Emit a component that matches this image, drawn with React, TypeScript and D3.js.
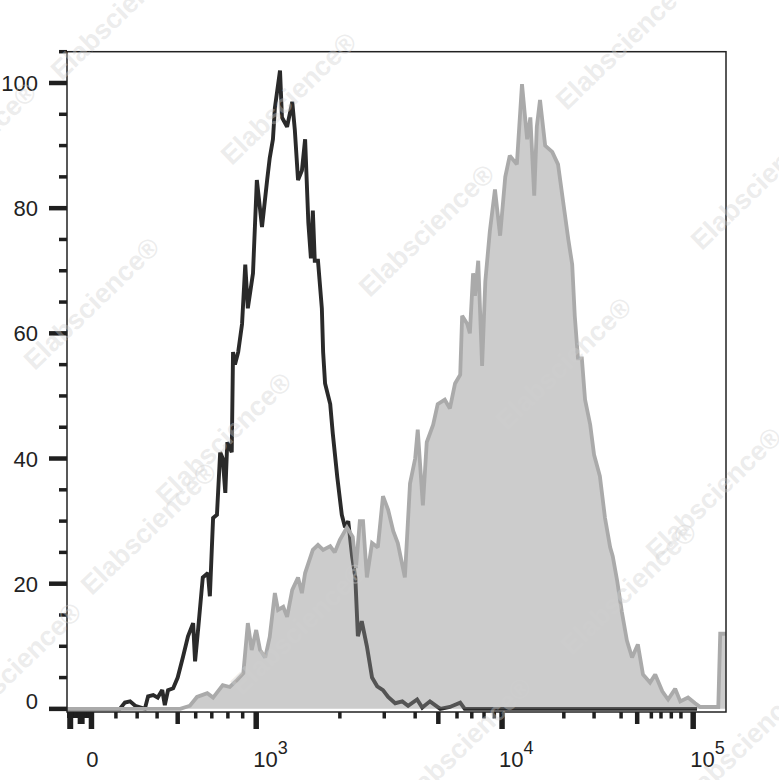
import React from "react";
import * as d3 from "d3";

// ---------- data (histogram channel 0..1024, normalised count % of max) ----------
const channelMax = 1024;

const blackChannels = [0,82,90,98,106,121,126,134,141,148,152,157,165,172,180,188,196,199,204,211,219,222,227,233,238,242,246,249,256,258,261,266,272,277,281,289,295,303,311,315,320,323,331,334,342,350,354,359,365,370,375,379,382,385,390,396,398,401,409,413,420,427,432,437,443,448,452,458,466,474,482,491,499,510,521,530,544,552,564,580,595,611,618,979];
const blackCounts = [0,0,1,1.2,0.5,0,2,2.2,1.8,3,0.6,3,3.3,5,8.2,11.6,13.7,7.6,13,21,21.7,18,30.5,31,41,40,34.5,42.6,41,57,55,57,61.5,71,64,69.6,84.5,77,84.5,88,91,96,102,94.5,93,97,92.5,84.5,86,91,77.7,72,79.6,71.6,71.6,64,57,52,48.7,44,37,31,29,30,24.4,21,11.6,14,10,5,3.6,3,1.9,0.9,1.2,0.5,1.5,0.2,1.2,0,0.3,1,0,0];

const grayChannels = [0,176,191,202,218,227,242,253,264,274,281,287,294,300,308,315,323,328,336,342,350,359,365,370,382,390,398,409,416,424,435,444,449,455,460,466,474,483,491,499,507,514,525,533,541,545,553,559,569,576,587,595,603,611,614,622,626,631,634,639,645,650,657,665,673,681,688,699,707,715,720,726,730,735,743,754,763,771,779,785,789,794,800,805,813,819,828,836,844,848,855,862,870,878,887,895,906,914,925,934,945,953,965,976,984,1012,1015,1024];
const grayCounts = [0,0,0.5,1.9,2.5,1.8,3.8,3.5,4.6,5.7,13.7,9.4,12.6,9.4,8.2,11.5,18.5,15.8,16.3,14.7,19,21,18.5,21.7,25.4,26.2,25.4,26,25,27,29,27.5,22.5,30,30,21,26.5,25.8,34,31.8,28.4,26.5,21,36,40,44.6,32.5,42.6,45.4,48.7,49.4,48,52,53.4,62.8,61.5,60,69.6,66,71.6,54.8,68.3,76.3,83,75.6,85,88.4,87,99.8,91,94.5,82,93,97.3,90,89,87,81,75,71,62.8,56,56,49.4,45.4,40.6,37.2,30.5,25.8,24.4,20.4,15.6,10.9,8.2,10.3,5.5,4.2,5.5,2.8,1.5,3.2,1.2,1.8,0.9,0.3,0.3,12,12];

// ---------- axis ticks ----------
const xMajorChannels = [38, 294, 676, 973];
const xMajorBase = ["0", "10", "10", "10"];
const xMajorExp = ["", "3", "4", "5"];
const xMediumChannels = [172, 577, 886];
const xMinorChannels = [76, 109, 140, 200, 225, 250, 273, 424, 493, 541, 606, 629, 648, 664, 772, 819, 861, 908, 923, 939, 954];
const xNegMinorChannels = [3, 8, 13, 18, 23, 28, 33];
const xNegMediumChannels = [22];
const xNegMajorChannels = [5];

const yMajorValues = [0, 20, 40, 60, 80, 100];
const yMinorValues = [5, 10, 15, 25, 30, 35, 45, 50, 55, 65, 70, 75, 85, 90, 95, 105];

const watermarkText = "Elabscience®";
const watermarkCenters: [number, number][] = [
  [120, 15], [290, 100], [625, 45], [760, 185], [-30, 150], [93, 305], [428, 232],
  [225, 440], [565, 365], [715, 495], [150, 530], [300, 630], [630, 590], [15, 670],
  [465, 745], [745, 745],
];

const FONT = "'Liberation Sans', Arial, Helvetica, sans-serif";

export default function App() {
  const L = 67, R = 726, B = 712, T = 51.7;
  const x = d3.scaleLinear().domain([0, channelMax]).range([L, R]);
  const y = d3.scaleLinear().domain([-0.5, 105]).range([B, T]);

  const black = blackChannels.map((c, i) => [c, blackCounts[i]] as [number, number]);
  const gray = grayChannels.map((c, i) => [c, grayCounts[i]] as [number, number]);

  const line = d3.line<[number, number]>().x(d => x(d[0])).y(d => y(d[1]));
  const area = d3.area<[number, number]>().x(d => x(d[0])).y0(y(0)).y1(d => y(d[1]));

  const tickColor = "#1f1f1f";

  return (
    <svg width={779} height={780} style={{ position: "absolute", left: 0, top: 0, background: "#fff" }}>
      <rect x={0} y={0} width={779} height={780} fill="#fff" />
      {/* black histogram (line) */}
      <path d={line(black) || ""} fill="none" stroke="#2a2a2a" strokeWidth={3.9} strokeLinejoin="miter" strokeMiterlimit={2} />
      {/* gray filled histogram */}
      <path d={area(gray) || ""} fill="rgb(140,140,140)" fillOpacity={0.44} stroke="none" />
      <path d={line(gray) || ""} fill="none" stroke="#aaaaaa" strokeWidth={3.8} strokeLinejoin="miter" strokeMiterlimit={2} />

      {/* frame */}
      <rect x={L} y={T} width={R - L} height={B - T} fill="none" stroke="#222" strokeWidth={1.5} />

      {/* y ticks */}
      {yMajorValues.map(v => (
        <line key={"ym" + v} x1={49} x2={L} y1={y(v)} y2={y(v)} stroke={tickColor} strokeWidth={4.5} />
      ))}
      {yMinorValues.map(v => (
        <line key={"yn" + v} x1={59} x2={L} y1={y(v)} y2={y(v)} stroke={tickColor} strokeWidth={3.5} />
      ))}
      {yMajorValues.map(v => (
        <text key={"yl" + v} x={38} y={y(v) + 8 - (v === 0 ? 8 : 0)} textAnchor="end" fontFamily={FONT} fontSize={22} fill="#222">
          {v}
        </text>
      ))}

      {/* x ticks */}
      <rect x={x(0)} y={B} width={x(38) - x(0) + 2} height={6} fill={tickColor} />
      {xNegMinorChannels.map(c => (
        <line key={"xnn" + c} x1={x(c)} x2={x(c)} y1={B} y2={B + 6} stroke={tickColor} strokeWidth={3.5} />
      ))}
      {xNegMediumChannels.map(c => (
        <line key={"xnm" + c} x1={x(c)} x2={x(c)} y1={B} y2={B + 12} stroke={tickColor} strokeWidth={7} />
      ))}
      {xNegMajorChannels.map(c => (
        <line key={"xnM" + c} x1={x(c)} x2={x(c)} y1={B} y2={B + 17} stroke={tickColor} strokeWidth={6} />
      ))}
      {xMajorChannels.map(c => (
        <line key={"xM" + c} x1={x(c)} x2={x(c)} y1={B} y2={B + 17} stroke={tickColor} strokeWidth={5.5} />
      ))}
      {xMediumChannels.map(c => (
        <line key={"xm" + c} x1={x(c)} x2={x(c)} y1={B} y2={B + 12} stroke={tickColor} strokeWidth={4.5} />
      ))}
      {xMinorChannels.map(c => (
        <line key={"xn" + c} x1={x(c)} x2={x(c)} y1={B} y2={B + 6.5} stroke={tickColor} strokeWidth={3.5} />
      ))}
      {xMajorChannels.map((c, i) =>
        xMajorExp[i] === "" ? (
          <text key={"xl" + c} x={x(c) + 1} y={767} textAnchor="middle" fontFamily={FONT} fontSize={22} fill="#222">
            {xMajorBase[i]}
          </text>
        ) : (
          <text key={"xl" + c} x={x(c) - 3} y={767} textAnchor="start" fontFamily={FONT} fontSize={22} fill="#222">
            {xMajorBase[i]}
            <tspan dy={-13} fontSize={18}>{xMajorExp[i]}</tspan>
          </text>
        )
      )}

      {/* watermark */}
      {watermarkCenters.map(([cx, cy], i) => (
        <text
          key={"wm" + i}
          x={cx}
          y={cy}
          transform={`rotate(-44 ${cx} ${cy})`}
          textAnchor="middle"
          dominantBaseline="middle"
          fontFamily={FONT}
          fontWeight="bold"
          fontSize={27}
          fill="#d0d0d0"
          fillOpacity={0.4}
        >
          {watermarkText}
        </text>
      ))}
    </svg>
  );
}
